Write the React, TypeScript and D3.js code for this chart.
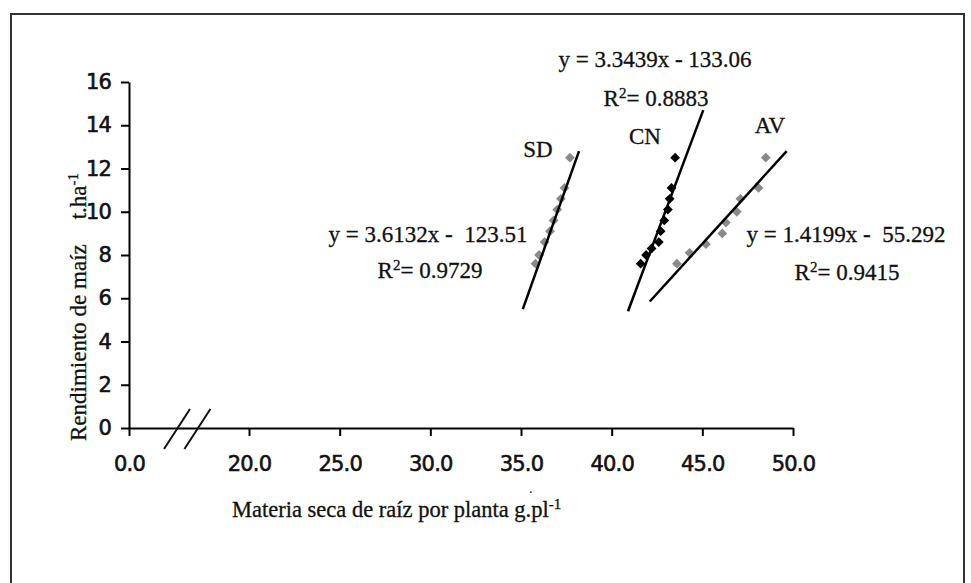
import React, { useRef, useEffect } from 'react';
import * as d3 from 'd3';

// tick values (0.0 sits before the axis break)
const xTicks = [0, 20, 25, 30, 35, 40, 45, 50];
const yTicks = [0, 2, 4, 6, 8, 10, 12, 14, 16];

// SD series
const sdX = [37.7, 37.4, 37.2, 37.0, 36.8, 36.6, 36.3, 36.0, 35.8];
const sdY = [12.5, 11.1, 10.6, 10.1, 9.6, 9.1, 8.6, 8.0, 7.6];
// CN series
const cnX = [43.5, 43.3, 43.2, 43.1, 42.9, 42.7, 42.6, 42.2, 41.9, 41.6];
const cnY = [12.5, 11.1, 10.6, 10.1, 9.6, 9.1, 8.6, 8.3, 8.0, 7.6];
// AV series
const avX = [48.5, 48.1, 47.1, 46.9, 46.3, 46.1, 45.2, 44.3, 43.6];
const avY = [12.5, 11.1, 10.6, 10.0, 9.5, 9.0, 8.5, 8.1, 7.6];

// trend line ends, as drawn in the figure
const sdTrendX = [35.1, 38.2];
const sdTrendY = [5.5, 12.8];
const cnTrendX = [40.9, 45.05];
const cnTrendY = [5.4, 14.7];
const avTrendX = [42.1, 49.65];
const avTrendY = [5.85, 12.8];

const seriesNames = ['SD', 'CN', 'AV'];
const equations = ['y = 3.6132x -  123.51', 'y = 3.3439x - 133.06', 'y = 1.4199x -  55.292'];
const r2Values = ['= 0.9729', '= 0.8883', '= 0.9415'];

export default function App() {
    const svgRef = useRef(null);
    const width = 971;
    const height = 583;

    useEffect(() => {
        const svg = d3.select(svgRef.current);
        svg.selectAll('*').remove();

        const serif = '"Liberation Serif", "Times New Roman", serif';
        const tickFont = '"DejaVu Sans", sans-serif';
        const ink = '#111';

        // broken axis: 0 -> 20 is squeezed
        const x = d3.scaleLinear().domain([0, 20, 50]).range([129, 249, 793]);
        const y = d3.scaleLinear().domain([0, 16]).range([428, 82]);

        // frame
        svg.append('rect')
            .attr('x', 11).attr('y', 14)
            .attr('width', 953).attr('height', 600)
            .attr('fill', 'none')
            .attr('stroke', '#333')
            .attr('stroke-width', 2);

        const styleTicks = g => g.selectAll('.tick text')
            .attr('font-size', 21)
            .attr('font-family', tickFont)
            .attr('letter-spacing', -0.8)
            .attr('fill', ink)
            .attr('stroke', ink)
            .attr('stroke-width', 0.6);

        // x axis
        svg.append('g')
            .attr('transform', `translate(0,${y(0)})`)
            .call(d3.axisBottom(x).tickValues(xTicks).tickFormat(d3.format('.1f')).tickSize(8).tickSizeOuter(0).tickPadding(20))
            .call(g => g.select('.domain').attr('stroke-width', 2))
            .call(g => g.selectAll('.tick line').attr('stroke-width', 2))
            .call(styleTicks);

        // y axis
        svg.append('g')
            .attr('transform', `translate(${x(0)},0)`)
            .call(d3.axisLeft(y).tickValues(yTicks).tickSize(8).tickSizeOuter(0).tickPadding(10))
            .call(g => g.select('.domain').attr('stroke-width', 2))
            .call(g => g.selectAll('.tick line').attr('stroke-width', 2))
            .call(styleTicks);

        // axis break marks
        [0.4, 0.57].forEach(f => {
            const cx = x(0) + f * (x(20) - x(0));
            svg.append('line')
                .attr('x1', cx - 13).attr('y1', y(0) + 21)
                .attr('x2', cx + 13).attr('y2', y(0) - 19)
                .attr('stroke', ink)
                .attr('stroke-width', 2);
        });

        const diamond = d3.symbol().type(d3.symbolSquare).size(48);

        const series = [
            { xs: sdX, ys: sdY, color: '#8a8a8a' },
            { xs: cnX, ys: cnY, color: '#000' },
            { xs: avX, ys: avY, color: '#8a8a8a' },
        ];
        series.forEach(s => {
            svg.append('g')
                .selectAll('path')
                .data(s.xs.map((v, i) => [v, s.ys[i]]))
                .join('path')
                .attr('d', diamond)
                .attr('fill', s.color)
                .attr('transform', d => `translate(${x(d[0])},${y(d[1])}) rotate(45)`);
        });

        // trend lines
        const line = d3.line().x(d => x(d[0])).y(d => y(d[1]));
        [[sdTrendX, sdTrendY], [cnTrendX, cnTrendY], [avTrendX, avTrendY]].forEach(([tx, ty]) => {
            svg.append('path')
                .datum(tx.map((v, i) => [v, ty[i]]))
                .attr('fill', 'none')
                .attr('stroke', '#000')
                .attr('stroke-width', 2.5)
                .attr('d', line);
        });

        const serifText = (sel, size) => sel
            .attr('font-size', size)
            .attr('font-family', serif)
            .attr('fill', ink)
            .attr('stroke', ink)
            .attr('stroke-width', 0.3);

        // series names
        const namePos = [[538, 157], [645, 144], [770, 133]];
        seriesNames.forEach((n, i) => {
            svg.append('text')
                .attr('x', namePos[i][0]).attr('y', namePos[i][1])
                .attr('text-anchor', 'middle')
                .call(serifText, 23)
                .text(n);
        });

        // equations and R²
        const eqPos = [[428, 242], [655, 67], [846, 242]];
        const r2Pos = [[430, 278], [656, 106], [847, 280]];
        equations.forEach((eq, i) => {
            svg.append('text')
                .attr('x', eqPos[i][0]).attr('y', eqPos[i][1])
                .attr('text-anchor', 'middle')
                .call(serifText, 23)
                .style('white-space', 'pre')
                .text(eq);

            const t = svg.append('text')
                .attr('x', r2Pos[i][0]).attr('y', r2Pos[i][1])
                .attr('text-anchor', 'middle')
                .call(serifText, 23);
            t.append('tspan').text('R');
            t.append('tspan').attr('dy', -8).attr('font-size', 15).text('2');
            t.append('tspan').attr('dy', 8).text(r2Values[i]);
        });

        // stray dot under the axis, as in the source
        svg.append('text')
            .attr('x', 529).attr('y', 493)
            .attr('font-size', 14)
            .attr('font-family', serif)
            .attr('fill', ink)
            .text('.');

        // axis titles
        const xt = svg.append('text')
            .attr('x', 232).attr('y', 517)
            .call(serifText, 22.5);
        xt.append('tspan').text('Materia seca de raíz por planta g.pl');
        xt.append('tspan').attr('dy', -8).attr('font-size', 15).text('-1');

        const yt = svg.append('text')
            .attr('transform', 'translate(86,441) rotate(-90)')
            .call(serifText, 23);
        yt.append('tspan').text('Rendimiento de maíz');
        yt.append('tspan').attr('dx', 25).text('t.ha');
        yt.append('tspan').attr('dy', -8).attr('font-size', 15).text('-1');
    }, []);

    return (
        <svg
            ref={svgRef}
            width={width}
            height={height}
            style={{ position: 'absolute', left: 0, top: 0, background: '#fff' }}
        />
    );
}
